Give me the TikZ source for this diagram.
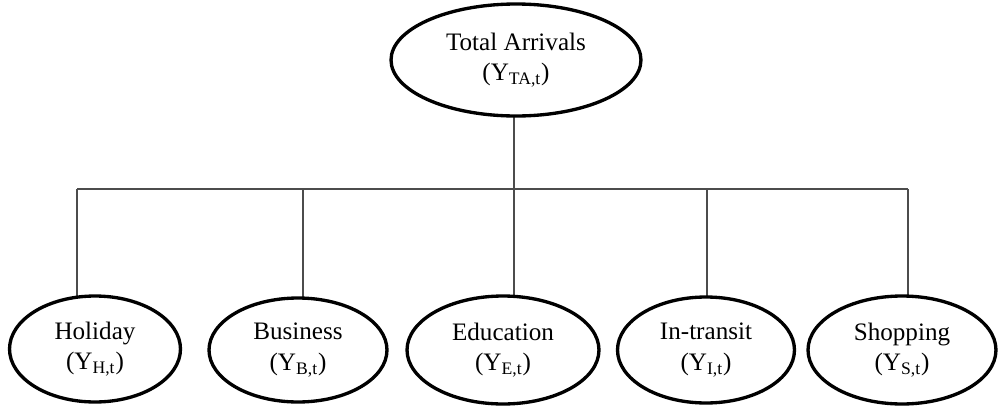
\documentclass[tikz,border=0pt]{standalone}
\usepackage{fontspec}
\setmainfont{Liberation Serif}
\usetikzlibrary{shapes.geometric,backgrounds}

\begin{document}
\begin{tikzpicture}[x=0.02cm,y=-0.02cm,purpose/.style={ellipse,draw,line width=1.9pt,fill=white,inner sep=0pt,align=center,font=\fontsize{14.3}{17.5}\selectfont},link/.style={line width=0.8pt,draw=black!70}]
\useasboundingbox (0,0) rectangle (998,406);
\coordinate (T) at (516,60);
\coordinate (H) at (95,349);
\coordinate (B) at (298,350);
\coordinate (E) at (503,350);
\coordinate (I) at (706,350);
\coordinate (S) at (902,350);
\coordinate (bH) at (77,189);
\coordinate (bB) at (303,189);
\coordinate (bE) at (514,189);
\coordinate (bI) at (707,189);
\coordinate (bS) at (908,189);
\node[purpose,minimum width=5cm,minimum height=2.24cm] (total) at (T) {Total Arrivals\\(Y\textsubscript{TA,t})};
\node[purpose,minimum width=3.42cm,minimum height=2.12cm] (holiday) at (H) {Holiday\\(Y\textsubscript{H,t})};
\node[purpose,minimum width=3.56cm,minimum height=2.08cm] (business) at (B) {Business\\(Y\textsubscript{B,t})};
\node[purpose,minimum width=3.84cm,minimum height=2.16cm] (education) at (E) {Education\\(Y\textsubscript{E,t})};
\node[purpose,minimum width=3.54cm,minimum height=2.12cm] (intransit) at (I) {In-transit\\(Y\textsubscript{I,t})};
\node[purpose,minimum width=3.76cm,minimum height=2.16cm] (shopping) at (S) {Shopping\\(Y\textsubscript{S,t})};
\begin{scope}[on background layer]
\draw[link] (bE |- total) -- (bE);
\draw[link] (bH) -- (bS);
\draw[link] (bH) -- (bH |- holiday);
\draw[link] (bB) -- (bB |- business);
\draw[link] (bE) -- (bE |- education);
\draw[link] (bI) -- (bI |- intransit);
\draw[link] (bS) -- (bS |- shopping);
\end{scope}
\end{tikzpicture}
\end{document}
